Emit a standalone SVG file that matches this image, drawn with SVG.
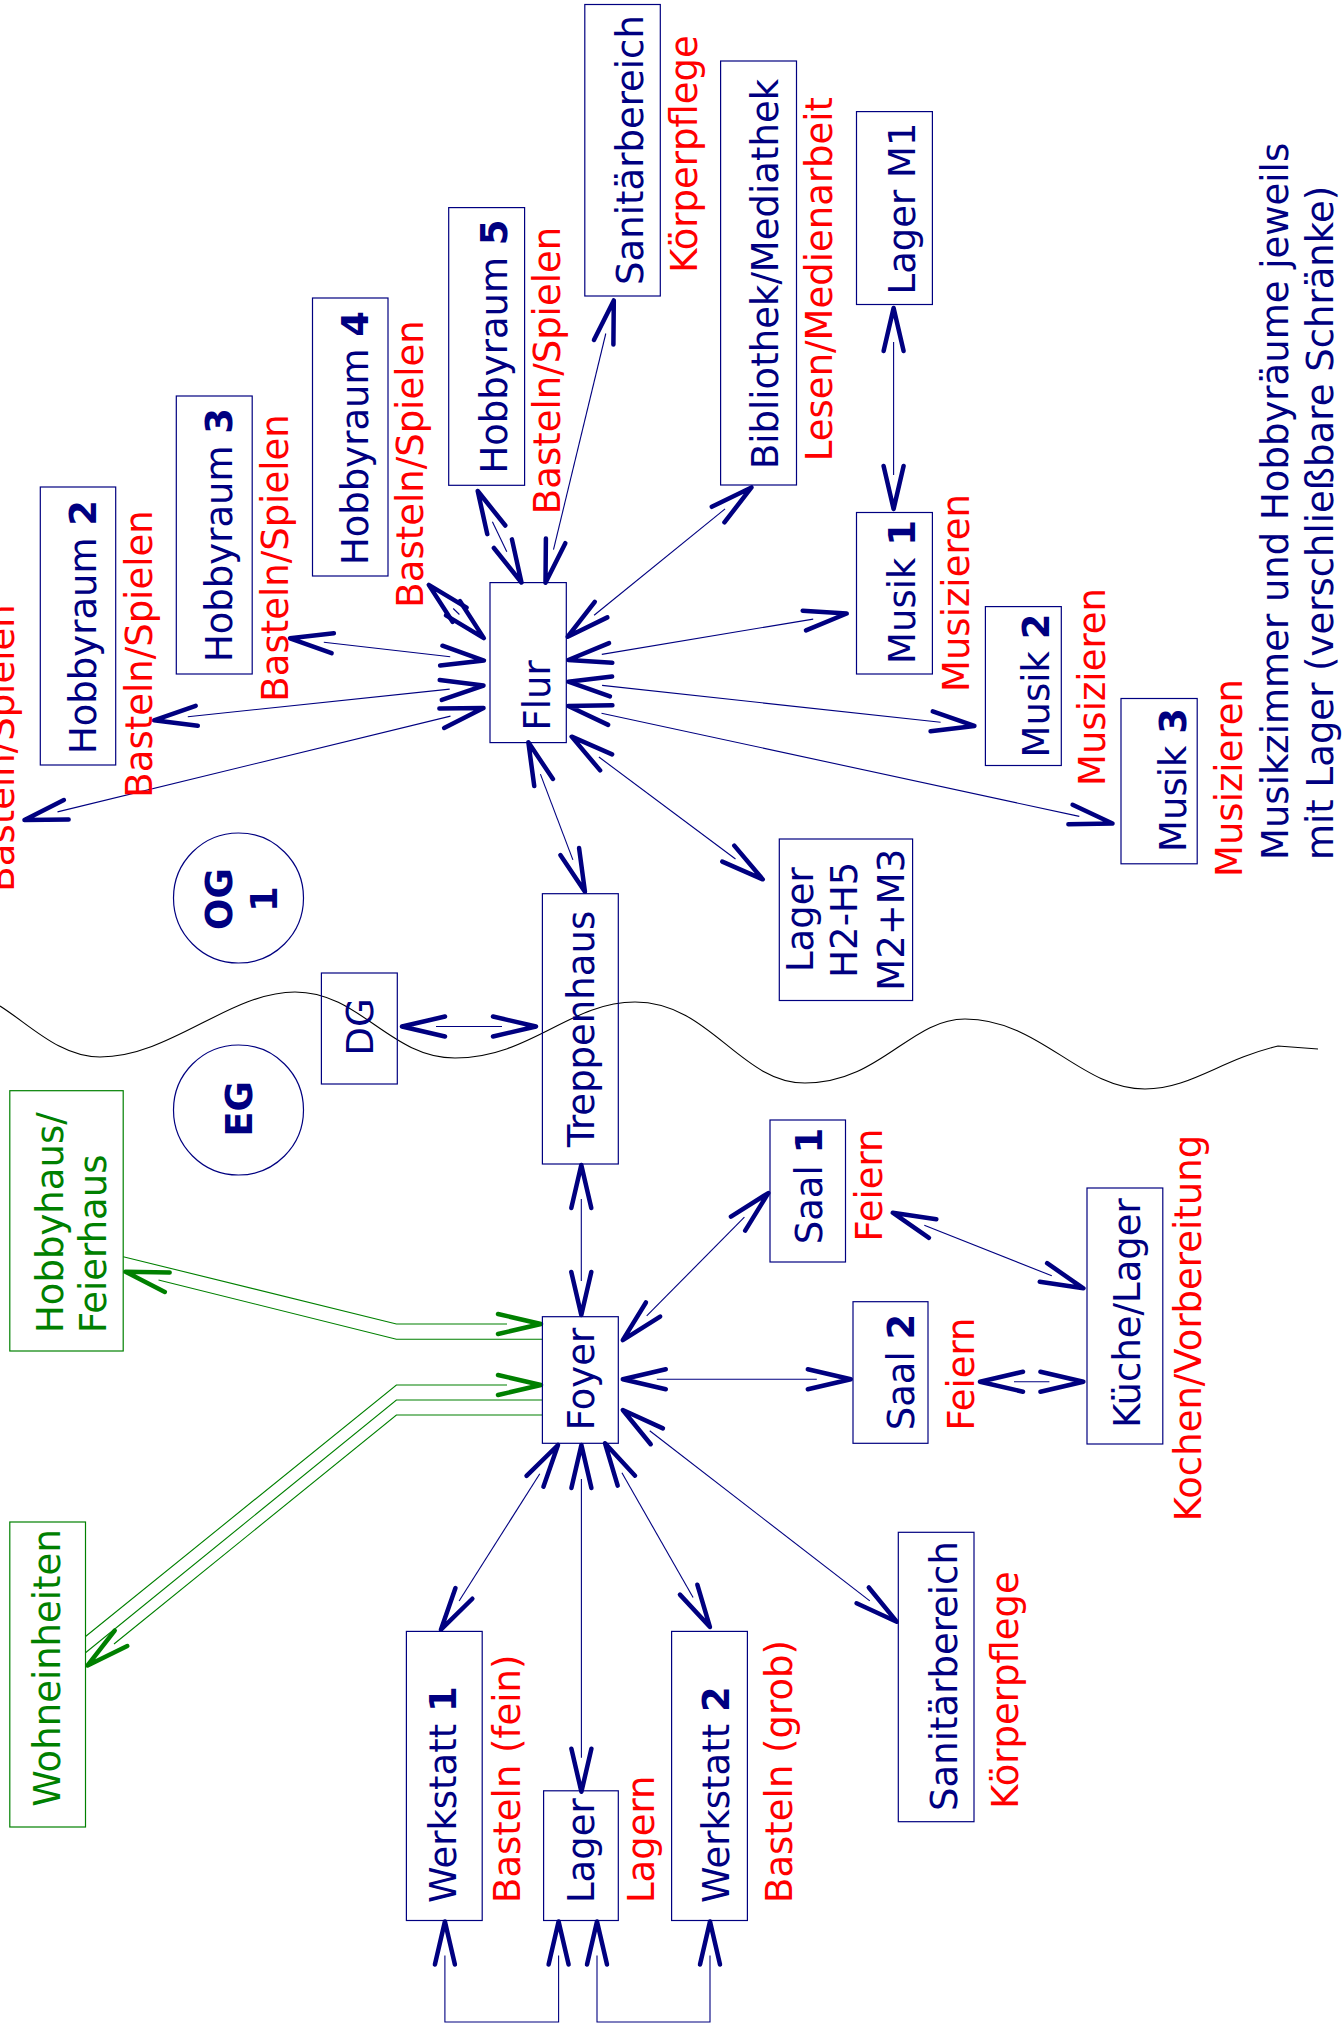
<svg xmlns="http://www.w3.org/2000/svg" width="1342" height="2035" viewBox="0 0 1342 2035">
<style>
.box{fill:none;stroke:#000080;stroke-width:1.2}
.gbox{fill:none;stroke:#008000;stroke-width:1.2}
text{font-family:"DejaVu Sans","Liberation Sans",sans-serif;font-size:37px}
.b{fill:#000080}
.r{fill:#ff0000}
.g{fill:#008000}
.m{text-anchor:middle}
.bold{font-weight:bold}
.c{fill:none;stroke:#000080;stroke-width:1.1}
.gc{fill:none;stroke:#008000;stroke-width:1.1}
.ah{marker-start:url(#ah);marker-end:url(#ah)}
</style>
<defs>
<marker id="ah" markerUnits="userSpaceOnUse" orient="auto-start-reverse" refX="-34" refY="0" markerWidth="1" markerHeight="1" overflow="visible">
<path d="M-43,-10 L0,0 L-43,10" fill="none" stroke="#000080" stroke-width="4.5" stroke-linecap="round" stroke-linejoin="round"/>
</marker>
<marker id="gah" markerUnits="userSpaceOnUse" orient="auto-start-reverse" refX="-34" refY="0" markerWidth="1" markerHeight="1" overflow="visible">
<path d="M-43,-10 L0,0 L-43,10" fill="none" stroke="#008000" stroke-width="4.5" stroke-linecap="round" stroke-linejoin="round"/>
</marker>
</defs>
<rect x="0" y="0" width="1342" height="2035" fill="#ffffff"/>

<path id="floor-line" d="M0,1006 C30,1025 60,1057 100,1057 C170,1057 230,992 295,992 C360,992 390,1058 455,1058 C530,1058 570,1002 635,1002 C710,1002 740,1083 805,1083 C880,1083 910,1019 965,1019 C1040,1019 1080,1089 1145,1089 C1190,1089 1220,1060 1278,1046 L1318,1049" fill="none" stroke="#000000" stroke-width="1.1"/>

<g id="connectors">
<line class="c ah" x1="492.4" y1="521.7" x2="506.8" y2="551.8"/>
<line class="c ah" x1="605.8" y1="333.5" x2="553.5" y2="549.6"/>
<line class="c ah" x1="453.2" y1="608.5" x2="459.4" y2="614.5"/>
<line class="c ah" x1="323.8" y1="642.2" x2="450.2" y2="656.7"/>
<line class="c ah" x1="187.8" y1="716.7" x2="449.7" y2="689.1"/>
<line class="c ah" x1="57.5" y1="811.9" x2="450.5" y2="716.1"/>
<line class="c ah" x1="725.1" y1="508.9" x2="594.1" y2="615.3"/>
<line class="c ah" x1="601.8" y1="654.4" x2="813.2" y2="619.1"/>
<line class="c ah" x1="602.1" y1="685.4" x2="940.6" y2="722.3"/>
<line class="c ah" x1="601.5" y1="713.2" x2="1079.3" y2="816.4"/>
<line class="c ah" x1="598.9" y1="757" x2="735.5" y2="859"/>
<line class="c ah" x1="540.4" y1="774.1" x2="572.9" y2="859.9"/>
<line class="c ah" x1="893.6" y1="342" x2="893.6" y2="475"/>
<line class="c ah" x1="436" y1="1026.5" x2="502" y2="1026.5"/>
<line class="c ah" x1="581.3" y1="1199" x2="581.3" y2="1281"/>
<line class="c ah" x1="646.7" y1="1315.9" x2="744.4" y2="1217.2"/>
<line class="c ah" x1="656.8" y1="1379.3" x2="816.8" y2="1379.3"/>
<line class="c ah" x1="1014" y1="1381.7" x2="1049.4" y2="1381.7"/>
<line class="c ah" x1="924.3" y1="1225.2" x2="1051.8" y2="1275.8"/>
<line class="c ah" x1="649.7" y1="1430.8" x2="869.8" y2="1600.9"/>
<line class="c ah" x1="539.8" y1="1473.7" x2="459.1" y2="1601"/>
<line class="c ah" x1="581.4" y1="1479" x2="581.4" y2="1757.8"/>
<line class="c ah" x1="621.9" y1="1472.8" x2="693.1" y2="1597.5"/>
<path class="c ah" d="M444.9,1955.5 V2022 H558.6 V1955.5"/>
<path class="c ah" d="M597,1955.5 V2022 H710 V1955.5"/>
<path class="gc" d="M123.2,1256.7 L396.4,1324 H507" marker-end="url(#gah)"/>
<path class="gc" d="M158.5,1280 L396.4,1339.3 H542.4" marker-start="url(#gah)"/>
<path class="gc" d="M85.5,1636.5 L396.4,1385 H507" marker-end="url(#gah)"/>
<path class="gc" d="M85.5,1652.8 L396.4,1400 H542.4"/>
<path class="gc" d="M114,1644 L396.4,1415 H542.4" marker-start="url(#gah)"/>
</g>

<g id="sanitaer-og">
<rect class="box" x="584.8" y="4.5" width="75.5" height="291.5"/>
<text class="b m" transform="translate(643,150) rotate(-90)">Sanitärbereich</text>
<text class="r m" transform="translate(697,154) rotate(-90)">Körperpflege</text>
</g>
<g id="hobbyraum5">
<rect class="box" x="448.7" y="207.6" width="75.9" height="277.7"/>
<text class="b m" transform="translate(506.7,346.5) rotate(-90)">Hobbyraum <tspan class="bold">5</tspan></text>
<text class="r m" transform="translate(560,370.5) rotate(-90)">Basteln/Spielen</text>
</g>
<g id="hobbyraum4">
<rect class="box" x="312.5" y="298" width="75.5" height="278"/>
<text class="b m" transform="translate(368,438) rotate(-90)">Hobbyraum <tspan class="bold">4</tspan></text>
<text class="r m" transform="translate(423,464) rotate(-90)">Basteln/Spielen</text>
</g>
<g id="hobbyraum3">
<rect class="box" x="176.3" y="396" width="75.9" height="278"/>
<text class="b m" transform="translate(232,535) rotate(-90)">Hobbyraum <tspan class="bold">3</tspan></text>
<text class="r m" transform="translate(288,558) rotate(-90)">Basteln/Spielen</text>
</g>
<g id="hobbyraum2">
<rect class="box" x="40.3" y="487" width="75.4" height="278"/>
<text class="b m" transform="translate(96,627) rotate(-90)">Hobbyraum <tspan class="bold">2</tspan></text>
<text class="r m" transform="translate(152,654) rotate(-90)">Basteln/Spielen</text>
</g>
<g id="hobbyraum1">
<text class="r m" transform="translate(14,748) rotate(-90)">Basteln/Spielen</text>
</g>
<g id="bibliothek">
<rect class="box" x="720.6" y="61" width="75.9" height="424"/>
<text class="b m" transform="translate(778,274) rotate(-90)">Bibliothek/Mediathek</text>
<text class="r m" transform="translate(832,279) rotate(-90)">Lesen/Medienarbeit</text>
</g>
<g id="lager-m1">
<rect class="box" x="856.5" y="111.6" width="75.9" height="192.9"/>
<text class="b m" transform="translate(915,208.5) rotate(-90)">Lager M1</text>
</g>
<g id="musik1">
<rect class="box" x="856.5" y="512.5" width="75.9" height="161.5"/>
<text class="b m" transform="translate(915,592) rotate(-90)">Musik <tspan class="bold">1</tspan></text>
<text class="r m" transform="translate(968.6,593) rotate(-90)">Musizieren</text>
</g>
<g id="musik2">
<rect class="box" x="985.4" y="606.6" width="75.9" height="158.9"/>
<text class="b m" transform="translate(1049.4,685.5) rotate(-90)">Musik <tspan class="bold">2</tspan></text>
<text class="r m" transform="translate(1104.5,687) rotate(-90)">Musizieren</text>
</g>
<g id="musik3">
<rect class="box" x="1121" y="698.5" width="76.2" height="165.3"/>
<text class="b m" transform="translate(1186,780) rotate(-90)">Musik <tspan class="bold">3</tspan></text>
<text class="r m" transform="translate(1241.7,778) rotate(-90)">Musizieren</text>
</g>
<g id="hinweis">
<text class="b" transform="translate(1288,860) rotate(-90)">Musikzimmer und Hobbyräume jeweils</text>
<text class="b" transform="translate(1333,860) rotate(-90)">mit Lager (verschließbare Schränke)</text>
</g>
<g id="flur">
<rect class="box" x="490" y="582.6" width="76.3" height="160"/>
<text class="b m" transform="translate(550,695.5) rotate(-90)">Flur</text>
</g>
<g id="lager-h2-h5">
<rect class="box" x="779.3" y="839" width="133.3" height="161.5"/>
<text class="b m" transform="translate(813,919.7) rotate(-90)"><tspan x="0" y="0">Lager</tspan><tspan x="0" y="44.4">H2-H5</tspan><tspan x="0" y="90.8">M2+M3</tspan></text>
</g>
<g id="og1">
<circle cx="238.5" cy="898" r="65" fill="none" stroke="#000080" stroke-width="1.2"/>
<text class="b m bold" transform="translate(232,899) rotate(-90)"><tspan x="0" y="0">OG</tspan><tspan x="0" y="45">1</tspan></text>
</g>
<g id="eg">
<circle cx="238.5" cy="1110" r="65" fill="none" stroke="#000080" stroke-width="1.2"/>
<text class="b m bold" transform="translate(252,1109) rotate(-90)">EG</text>
</g>
<g id="dg">
<rect class="box" x="321.4" y="973" width="75.9" height="111"/>
<text class="b m" transform="translate(372.8,1027) rotate(-90)">DG</text>
</g>
<g id="treppenhaus">
<rect class="box" x="542.4" y="893.7" width="75.9" height="270.3"/>
<text class="b m" transform="translate(594,1029) rotate(-90)">Treppenhaus</text>
</g>
<g id="foyer">
<rect class="box" x="542.4" y="1316.7" width="75.9" height="126.6"/>
<text class="b m" transform="translate(593.7,1379) rotate(-90)">Foyer</text>
</g>
<g id="saal1">
<rect class="box" x="770" y="1120" width="75.5" height="142"/>
<text class="b m" transform="translate(822,1186) rotate(-90)">Saal <tspan class="bold">1</tspan></text>
<text class="r m" transform="translate(881.7,1185) rotate(-90)">Feiern</text>
</g>
<g id="saal2">
<rect class="box" x="853" y="1301.7" width="75" height="141.6"/>
<text class="b m" transform="translate(913.5,1372) rotate(-90)">Saal <tspan class="bold">2</tspan></text>
<text class="r m" transform="translate(973.5,1374) rotate(-90)">Feiern</text>
</g>
<g id="kueche">
<rect class="box" x="1087" y="1188" width="75.8" height="256"/>
<text class="b m" transform="translate(1140,1313) rotate(-90)">Küche/Lager</text>
<text class="r m" transform="translate(1200.7,1328) rotate(-90)">Kochen/Vorbereitung</text>
</g>
<g id="sanitaer-eg">
<rect class="box" x="898.3" y="1532.3" width="75.7" height="289.4"/>
<text class="b m" transform="translate(956.7,1676) rotate(-90)">Sanitärbereich</text>
<text class="r m" transform="translate(1018,1690) rotate(-90)">Körperpflege</text>
</g>
<g id="werkstatt1">
<rect class="box" x="406.4" y="1631.4" width="75.8" height="289.1"/>
<text class="b" transform="translate(456.4,1903) rotate(-90)">Werkstatt <tspan class="bold">1</tspan></text>
<text class="r" transform="translate(519.5,1903) rotate(-90)">Basteln (fein)</text>
</g>
<g id="lager-eg">
<rect class="box" x="543.6" y="1790.8" width="74.7" height="129.7"/>
<text class="b" transform="translate(594,1903) rotate(-90)">Lager</text>
<text class="r" transform="translate(654.4,1903) rotate(-90)">Lagern</text>
</g>
<g id="werkstatt2">
<rect class="box" x="671.6" y="1631.4" width="75.8" height="289.1"/>
<text class="b" transform="translate(729,1903) rotate(-90)">Werkstatt <tspan class="bold">2</tspan></text>
<text class="r" transform="translate(792,1903) rotate(-90)">Basteln (grob)</text>
</g>
<g id="hobbyhaus">
<rect class="gbox" x="9.8" y="1090.7" width="113.4" height="260.3"/>
<text class="g" transform="translate(62.5,1333) rotate(-90)"><tspan x="0" y="0">Hobbyhaus/</tspan><tspan x="0" y="43.5">Feierhaus</tspan></text>
</g>
<g id="wohneinheiten">
<rect class="gbox" x="9.8" y="1522" width="75.7" height="305"/>
<text class="g m" transform="translate(60.3,1668) rotate(-90)">Wohneinheiten</text>
</g>
</svg>
